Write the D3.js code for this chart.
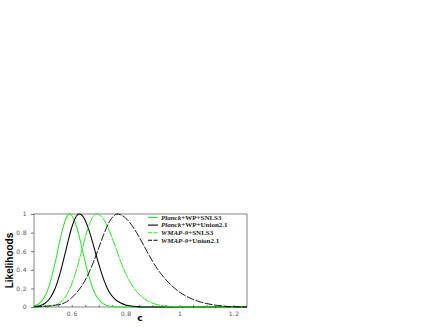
<!DOCTYPE html>
<html>
<head>
<meta charset="utf-8">
<script src="https://cdn.jsdelivr.net/npm/d3@7"></script>
<style>
  body { margin: 0; background: #fff; }
  svg { display: block; }
</style>
</head>
<body>
<div id="chart"></div>
<script>
var svgWidth = 436;
var svgHeight = 327;

var margin = { top: 214, right: 189, bottom: 20, left: 34 };
var width = svgWidth - margin.left - margin.right;
var height = svgHeight - margin.top - margin.bottom;

// legend names
var names = ["Planck+WP+SNLS3", "Planck+WP+Union2.1", "WMAP-9+SNLS3", "WMAP-9+Union2.1"];

// c grid and likelihoods
var cA = [0.46, 0.48, 0.50, 0.52, 0.54, 0.56, 0.58, 0.592, 0.60, 0.62, 0.64, 0.66, 0.68, 0.70, 0.72, 0.74, 0.76, 0.78, 0.80, 0.84, 1.25];
var lA = [0.011, 0.039, 0.112, 0.262, 0.497, 0.768, 0.963, 1.0, 0.986, 0.844, 0.607, 0.366, 0.186, 0.080, 0.029, 0.009, 0.003, 0.001, 0, 0, 0];

var cB = [0.46, 0.48, 0.50, 0.52, 0.54, 0.56, 0.58, 0.60, 0.62, 0.628, 0.64, 0.66, 0.68, 0.70, 0.72, 0.74, 0.76, 0.78, 0.80, 0.82, 0.84, 0.86, 0.90, 1.25];
var lB = [0.004, 0.013, 0.038, 0.097, 0.212, 0.397, 0.631, 0.855, 0.987, 1.0, 0.979, 0.859, 0.669, 0.463, 0.284, 0.155, 0.085, 0.045, 0.022, 0.010, 0.004, 0.001, 0, 0];

var cC = [0.46, 0.48, 0.50, 0.52, 0.54, 0.56, 0.58, 0.60, 0.62, 0.64, 0.66, 0.68, 0.692, 0.70, 0.72, 0.74, 0.76, 0.78, 0.80, 0.82, 0.84, 0.86, 0.88, 0.90, 0.92, 0.94, 0.96, 0.98, 1.00, 1.04, 1.25];
var lC = [0, 0.0006, 0.002, 0.0075, 0.022, 0.056, 0.126, 0.247, 0.424, 0.640, 0.844, 0.976, 1.0, 0.995, 0.935, 0.815, 0.665, 0.500, 0.360, 0.250, 0.170, 0.110, 0.068, 0.040, 0.024, 0.014, 0.008, 0.004, 0.002, 0, 0];

var cD = [0.46, 0.48, 0.50, 0.52, 0.54, 0.56, 0.58, 0.60, 0.62, 0.64, 0.66, 0.68, 0.70, 0.72, 0.74, 0.76, 0.767, 0.78, 0.80, 0.82, 0.84, 0.86, 0.88, 0.90, 0.92, 0.94, 0.96, 0.98, 1.00, 1.02, 1.04, 1.06, 1.08, 1.10, 1.12, 1.14, 1.16, 1.18, 1.20, 1.22, 1.25];
var lD = [0.002, 0.004, 0.008, 0.013, 0.020, 0.030, 0.055, 0.100, 0.160, 0.240, 0.345, 0.480, 0.635, 0.790, 0.920, 0.990, 1.0, 0.993, 0.956, 0.890, 0.802, 0.700, 0.592, 0.490, 0.400, 0.325, 0.260, 0.205, 0.160, 0.124, 0.094, 0.070, 0.052, 0.037, 0.026, 0.017, 0.011, 0.006, 0.003, 0.001, 0];

var xTicks = [0.6, 0.8, 1.0, 1.2];
var yTicks = [0, 0.2, 0.4, 0.6, 0.8, 1];

var series = [
  { name: names[0], c: cA, l: lA, color: "#22ee22", dash: null, w: 1.05 },
  { name: names[1], c: cB, l: lB, color: "#000", dash: null, w: 1.05 },
  { name: names[2], c: cC, l: lC, color: "#22ee22", dash: "10,1", w: 1.0 },
  { name: names[3], c: cD, l: lD, color: "#000", dash: "8,1.5", w: 0.9 }
];

var svg = d3.select("#chart")
  .append("svg")
  .attr("width", svgWidth)
  .attr("height", svgHeight);

var chartGroup = svg.append("g")
  .attr("transform", `translate(${margin.left}, ${margin.top})`);

var xScale = d3.scaleLinear().domain([0.46, 1.25]).range([0, width]);
var yScale = d3.scaleLinear().domain([0, 1]).range([height, 0]);

// axes
var bottomAxis = d3.axisBottom(xScale)
  .tickValues(xTicks)
  .tickSize(0)
  .tickPadding(5)
  .tickFormat(d => d === 1 ? "1" : d3.format(".1f")(d));
var leftAxis = d3.axisLeft(yScale)
  .tickValues(yTicks)
  .tickSize(3)
  .tickPadding(4)
  .tickFormat(d => (d === 0 || d === 1) ? d : d3.format(".1f")(d));

var minorX = d3.range(0.5, 1.25, 0.05);

chartGroup.append("g")
  .attr("transform", `translate(0, ${height})`)
  .call(d3.axisBottom(xScale).tickValues(minorX).tickSize(-2).tickFormat(""))
  .call(g => g.select(".domain").remove())
  .selectAll("line").attr("stroke", "#777");

var xAxisG = chartGroup.append("g")
  .attr("transform", `translate(0, ${height})`)
  .call(bottomAxis);
var yAxisG = chartGroup.append("g")
  .call(leftAxis);

[xAxisG, yAxisG].forEach(function(g) {
  g.select(".domain").remove();
  g.selectAll("text")
    .style("font-family", "DejaVu Sans, sans-serif")
    .style("font-size", "6px")
    .style("letter-spacing", "0.4px")
    .attr("fill", "#555");
  g.selectAll("line").attr("stroke", "#777");
});

// frame
chartGroup.append("rect")
  .attr("x", 0)
  .attr("y", 0)
  .attr("width", width)
  .attr("height", height)
  .attr("fill", "none")
  .attr("stroke", "#666")
  .attr("stroke-width", 0.8);

// curves
var line = d3.line()
  .x(d => xScale(d[0]))
  .y(d => yScale(d[1]))
  .curve(d3.curveMonotoneX);

series.forEach(function(s) {
  var pts = s.c.map((c, i) => [c, s.l[i]]);
  chartGroup.append("path")
    .datum(pts)
    .attr("d", line)
    .attr("fill", "none")
    .attr("stroke", s.color)
    .attr("stroke-width", s.w)
    .attr("stroke-dasharray", s.dash);
});

// legend
var legend = svg.append("g")
  .attr("transform", "translate(148, 217.5)");

series.forEach(function(s, i) {
  var row = legend.append("g").attr("transform", `translate(0, ${i * 7.6})`);
  row.append("line")
    .attr("x1", 0).attr("x2", 10)
    .attr("y1", 0).attr("y2", 0)
    .attr("stroke", s.color)
    .attr("stroke-width", 1.1)
    .attr("stroke-dasharray", s.dash ? "4,1.5" : null);
  var parts = s.name.split("+");
  var t = row.append("text")
    .attr("x", 13)
    .attr("y", 2.2)
    .style("font-family", "Liberation Serif, serif")
    .style("font-size", "7px")
    .style("font-weight", "bold")
    .attr("fill", "#222");
  t.append("tspan").style("font-style", "italic").text(parts[0]);
  t.append("tspan").text("+" + parts.slice(1).join("+"));
});

// axis labels
svg.append("text")
  .attr("transform", `translate(13, ${margin.top + height / 2}) rotate(-90)`)
  .attr("text-anchor", "middle")
  .style("font-family", "Liberation Sans Narrow, Liberation Sans, sans-serif")
  .style("font-size", "10px")
  .style("font-weight", "bold")
  .text("Likelihoods");

svg.append("text")
  .attr("x", 140)
  .attr("y", 321)
  .attr("text-anchor", "middle")
  .style("font-family", "DejaVu Sans, sans-serif")
  .style("font-size", "9px")
  .style("font-weight", "bold")
  .text("c");
</script>
</body>
</html>
